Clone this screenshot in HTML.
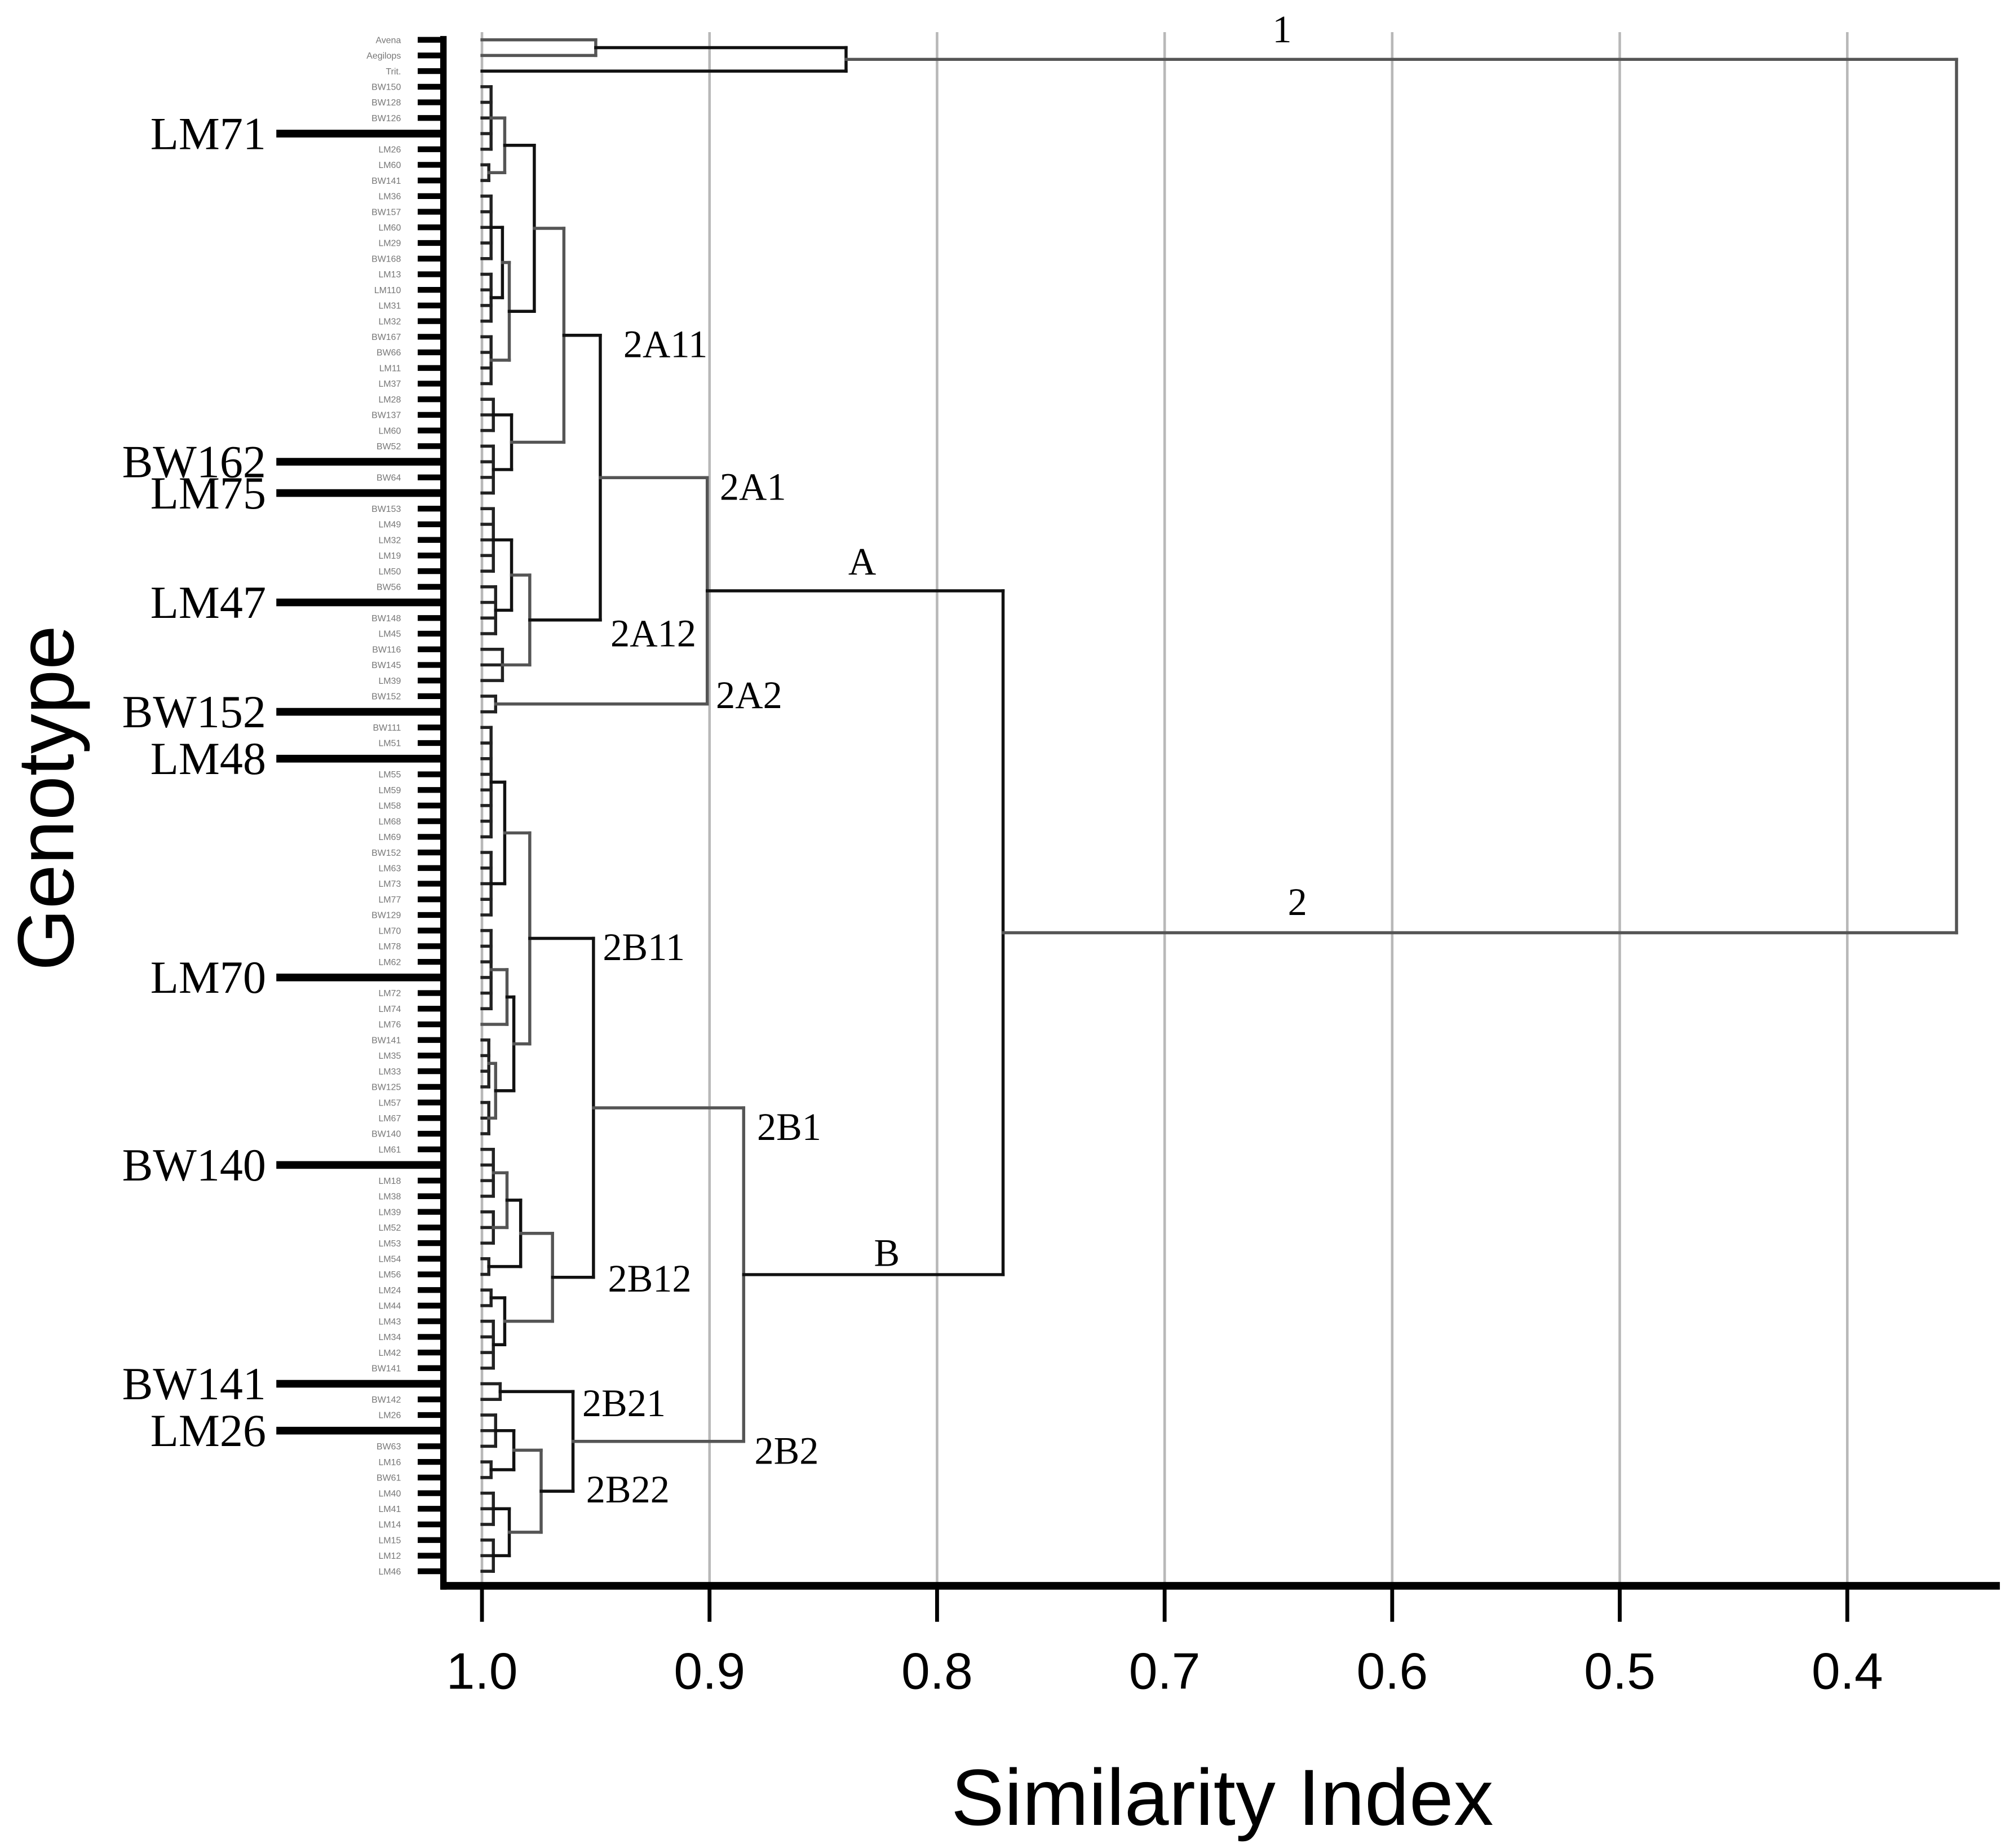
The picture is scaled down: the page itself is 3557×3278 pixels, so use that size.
<!DOCTYPE html>
<html><head><meta charset="utf-8"><style>
html,body{margin:0;padding:0;background:#fff;}
svg{display:block;}
</style></head><body>
<svg id="chart" xmlns="http://www.w3.org/2000/svg" width="3557" height="3278" viewBox="0 0 1560 1438" preserveAspectRatio="none">
<rect x="0" y="0" width="1560" height="1438" fill="#fff"/>
<g id="grid"></g>
<g id="leafticks"></g>
<g id="leaflabels"></g>
<g id="tree"></g>
<g id="axes"></g>
<g id="callouts"></g>
<g id="clusterlabels"></g>
<text x="951" y="1420" font-family="Liberation Sans, sans-serif" font-size="62" text-anchor="middle" textLength="422">Similarity Index</text>
<text transform="translate(57,621) rotate(-90)" font-family="Liberation Sans, sans-serif" font-size="62" text-anchor="middle">Genotype</text>
</svg>
<script>
const tickValues = [1.0, 0.9, 0.8, 0.7, 0.6, 0.5, 0.4];
const tickLabels = ["1.0", "0.9", "0.8", "0.7", "0.6", "0.5", "0.4"];

const cluster1 = {h:0.840, c:[{h:0.950, c:[{n:1,h:1},{n:1,h:1}]},{n:1,h:1}]};
const cluster2A11 = {h:0.964, c:[
  {h:0.977, c:[
    {h:0.990, c:[{n:5,h:0.996},{n:2,h:0.997}]},
    {h:0.988, c:[{h:0.991, c:[{n:5,h:0.996},{n:4,h:0.996}]},{n:4,h:0.996}]}
  ]},
  {h:0.987, c:[{n:3,h:0.995},{n:4,h:0.995}]}
]};
const cluster2A12 = {h:0.979, c:[{h:0.987, c:[{n:5,h:0.995},{n:4,h:0.994}]},{n:3,h:0.991}]};
const cluster2A2 = {n:2, h:0.994};
const cluster2B11 = {h:0.979, c:[
  {h:0.990, c:[{n:8,h:0.996},{n:5,h:0.996}]},
  {h:0.986, c:[{h:0.989, c:[{n:6,h:0.996},{n:1,h:1}]},{h:0.994, c:[{n:4,h:0.997},{n:3,h:0.997}]}]}
]};
const cluster2B12 = {h:0.969, c:[
  {h:0.983, c:[{h:0.989, c:[{n:4,h:0.995},{n:3,h:0.995}]},{n:2,h:0.997}]},
  {h:0.990, c:[{n:2,h:0.996},{n:4,h:0.995}]}
]};
const cluster2B21 = {n:2, h:0.992};
const cluster2B22 = {h:0.974, c:[{h:0.986, c:[{n:3,h:0.994},{n:2,h:0.996}]},{h:0.988, c:[{n:3,h:0.995},{n:3,h:0.995}]}]};
const mergeHeights = {a1:0.948, a:0.901, b1:0.951, b2:0.960, b:0.885, c2:0.771, root:0.352};

const calloutNames = ["LM71","BW162","LM75","LM47","BW152","LM48","LM70","BW140","BW141","LM26"];
const calloutSlots = [6, 27, 29, 36, 43, 46, 60, 72, 86, 89];

const leafNames = ["Avena","Aegilops","Trit.","BW150","BW128","BW126","LM71","LM26","LM60","BW141","LM36","BW157","LM60","LM29","BW168","LM13","LM110","LM31","LM32","BW167","BW66","LM11","LM37","LM28","BW137","LM60","BW52","BW162","BW64","LM75","BW153","LM49","LM32","LM19","LM50","BW56","LM47","BW148","LM45","BW116","BW145","LM39","BW152","BW149","BW111","LM51","LM48","LM55","LM59","LM58","LM68","LM69","BW152","LM63","LM73","LM77","BW129","LM70","LM78","LM62","LM66","LM72","LM74","LM76","BW141","LM35","LM33","BW125","LM57","LM67","BW140","LM61","LM65","LM18","LM38","LM39","LM52","LM53","LM54","LM56","LM24","LM44","LM43","LM34","LM42","BW141","LM29","BW142","LM26","LM30","BW63","LM16","BW61","LM40","LM41","LM14","LM15","LM12","LM46"];

const NS = "http://www.w3.org/2000/svg";
function xScale(v){ return 375 + (1 - v) * 1770.5; }
function yScale(slot){ return 31 + slot * 12.16; }
function mk(parent, tag, attrs){
  const e = document.createElementNS(NS, tag);
  for (const k in attrs) e.setAttribute(k, attrs[k]);
  parent.appendChild(e);
  return e;
}

const grid = document.getElementById('grid');
tickValues.forEach(v => {
  const l = mk(grid, 'line', {x1:xScale(v), x2:xScale(v), y1:25, y2:1232, stroke:'#b8b8b8', 'stroke-width':2});
  
  
});

const root = {h:mergeHeights.root, c:[cluster1, {h:mergeHeights.c2, c:[
  {h:mergeHeights.a, c:[{h:mergeHeights.a1, c:[cluster2A11, cluster2A12]}, cluster2A2]},
  {h:mergeHeights.b, c:[{h:mergeHeights.b1, c:[cluster2B11, cluster2B12]}, {h:mergeHeights.b2, c:[cluster2B21, cluster2B22]}]}
]}]};
const treeG = document.getElementById('tree');
let slot = 0;
function seg(x1,y1,x2,y2,col){
  const l = mk(treeG, 'line', {x1:x1,y1:y1,x2:x2,y2:y2,stroke:col,'stroke-width':2.4,'stroke-linecap':'square'});
  
  
}
function draw(node, depth){
  if (node.n !== undefined) {
    const ys = [];
    for (let i = 0; i < node.n; i++) { ys.push(yScale(slot)); slot++; }
    const xh = xScale(node.h);
    if (node.n === 1) return {x: xScale(1), y: ys[0]};
    ys.forEach(y => seg(xScale(1), y, xh, y, '#222'));
    seg(xh, ys[0], xh, ys[ys.length-1], '#222');
    return {x: xh, y: (ys[0] + ys[ys.length-1]) / 2};
  }
  const kids = node.c.map(c => draw(c, depth+1));
  const xh = xScale(node.h);
  const col = depth % 2 ? '#111' : '#555';
  kids.forEach(k => seg(k.x, k.y, xh, k.y, col));
  seg(xh, kids[0].y, xh, kids[kids.length-1].y, col);
  return {x: xh, y: (kids[0].y + kids[kids.length-1].y) / 2};
}
draw(root, 0);
const totalSlots = slot;

const lt = document.getElementById('leafticks');
const ll = document.getElementById('leaflabels');
for (let i = 0; i < totalSlots; i++) {
  const t = mk(lt, 'line', {x1:325, x2:346, y1:yScale(i), y2:yScale(i), stroke:'#000', 'stroke-width':4.5});
  
  
  const tx = mk(ll, 'text', {x:312, y:yScale(i)+2.5, 'font-family':'Liberation Sans, sans-serif', 'font-size':7, fill:'#777', 'text-anchor':'end'});
  tx.textContent = leafNames[i] || '';
  
  
}

const ax = document.getElementById('axes');
const yAxis = mk(ax, 'line', {x1:345, x2:345, y1:28, y2:1237, stroke:'#000', 'stroke-width':5});


const xAxis = mk(ax, 'line', {x1:343, x2:1556, y1:1234, y2:1234, stroke:'#000', 'stroke-width':6});


tickValues.forEach((v, i) => {
  const t = mk(ax, 'line', {x1:xScale(v), x2:xScale(v), y1:1234, y2:1262, stroke:'#000', 'stroke-width':3});
  
  
  const lb = mk(ax, 'text', {x:xScale(v), y:1314, 'font-family':'Liberation Sans, sans-serif', 'font-size':40, 'text-anchor':'middle'});
  lb.textContent = tickLabels[i];
  
  
});

const co = document.getElementById('callouts');
calloutNames.forEach((n, i) => {
  const y = yScale(calloutSlots[i]);
  const l = mk(co, 'line', {x1:215, x2:345, y1:y, y2:y, stroke:'#000', 'stroke-width':6});
  
  
  const t = mk(co, 'text', {x:207, y:y+12, 'font-family':'Liberation Serif, serif', 'font-size':36, 'text-anchor':'end'});
  t.textContent = n;
  
  
});

const clusterLabelText = ["1","2","A","B","2A11","2A1","2A12","2A2","2B11","2B1","2B12","2B2","2B21","2B22"];
const clusterLabelPos = [[990,33],[1002,712],[660,447],[680,985],[485,278],[560,389],[475,503],[557,551],[469,747],[589,887],[473,1005],[587,1139],[453,1102],[456,1169]];
const cl = document.getElementById('clusterlabels');
clusterLabelText.forEach((s, i) => {
  const t = mk(cl, 'text', {x:clusterLabelPos[i][0], y:clusterLabelPos[i][1], 'font-family':'Liberation Serif, serif', 'font-size':30});
  t.textContent = s;
  
  
});
</script>
</body></html>
